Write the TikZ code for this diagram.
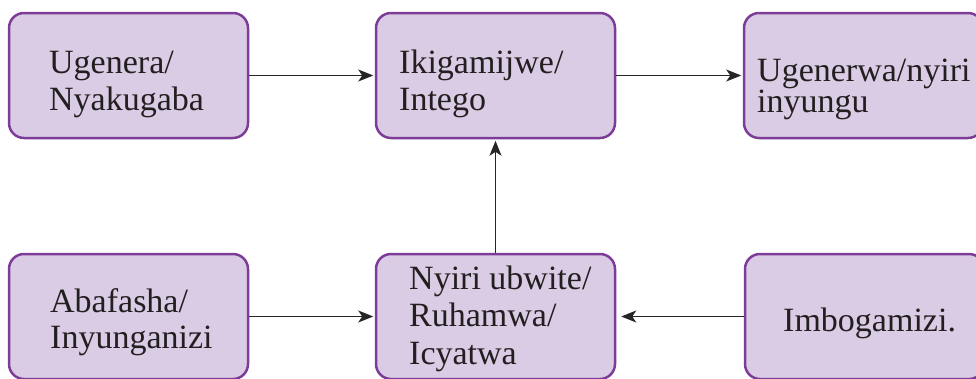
\documentclass[tikz,border=0pt]{standalone}
\usepackage{fontspec}
\setmainfont{Liberation Serif}
\usetikzlibrary{arrows.meta}
\definecolor{boxfill}{HTML}{D9CCE4}
\definecolor{boxline}{HTML}{7D3C98}
\definecolor{txt}{HTML}{231F20}
\tikzset{
  box/.style={draw=boxline, fill=boxfill, line width=2.5pt, rounded corners=15pt,
    minimum width=239pt, minimum height=125pt, inner sep=0pt},
  lbl/.style={anchor=base west, inner sep=0pt, align=left, text=txt,
    font=\fontsize{34}{37}\selectfont},
  conn/.style={draw=black!85, line width=1.4pt,
    -{Stealth[length=15pt,width=12pt,inset=4pt]}, shorten >=1.5pt}
}
\begin{document}
\begin{tikzpicture}[x=1pt,y=-1pt]
\useasboundingbox (0,0) rectangle (976,378);
\node[box] (b1) at (128.5,75.5) {};
\node[box] (b2) at (495.5,75.5) {};
\node[box] (b3) at (863.5,75.5) {};
\node[box] (b4) at (128.5,316.5) {};
\node[box] (b5) at (495.5,316.5) {};
\node[box] (b6) at (864.5,316.5) {};
\node[lbl] (t1) at (49,110) {Ugenera/\\Nyakugaba};
\node[lbl] (t2) at (399,110) {Ikigamijwe/\\Intego};
\node[lbl, font=\fontsize{34}{31.5}\selectfont] (t3) at (757,112.5) {Ugenerwa/nyiri\\inyungu};
\node[lbl, font=\fontsize{34}{36}\selectfont] (t4) at (50,348) {Abafasha/\\Inyunganizi};
\node[lbl, font=\fontsize{34}{37.5}\selectfont] (t5) at (409,364) {Nyiri ubwite/\\Ruhamwa/\\Icyatwa};
\node[lbl] (t6) at (783,331) {Imbogamizi.};
\draw[conn] (b1.east) -- (b2.west);
\draw[conn] (b2.east) -- (b3.west);
\draw[conn] (b4.east) -- (b5.west);
\draw[conn, shorten >=5pt] (b6.west) -- (b5.east);
\draw[conn] (b5.north) -- (b2.south);
\end{tikzpicture}
\end{document}
